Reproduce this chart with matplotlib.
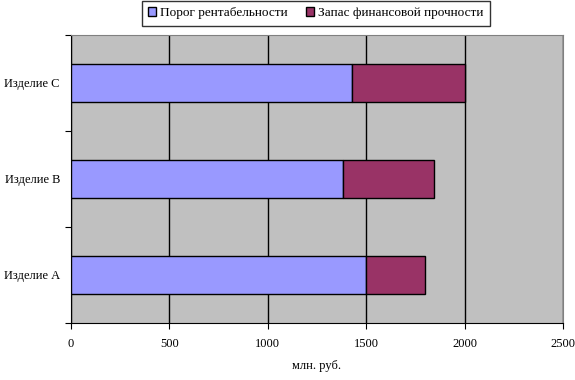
import matplotlib.pyplot as plt

plt.rcParams['font.family'] = ['Liberation Serif', 'DejaVu Serif']

products = ['Изделие А', 'Изделие В', 'Изделие С']
breakeven = [1500, 1384, 1429]
safety_margin = [300, 462, 571]
x_ticks = [0, 500, 1000, 1500, 2000, 2500]

fig = plt.figure(figsize=(5.75, 3.8), dpi=100)
ax = fig.add_axes([71 / 575, 1 - 323 / 380, 492 / 575, 288 / 380])
ax.set_facecolor('#c0c0c0')

ypos = range(len(products))
ax.barh(ypos, breakeven, height=0.4, color='#9999ff', edgecolor='black',
        linewidth=1, label='Порог рентабельности', zorder=3)
ax.barh(ypos, safety_margin, left=breakeven, height=0.4, color='#993366',
        edgecolor='black', linewidth=1, label='Запас финансовой прочности', zorder=3)

ax.set_xlim(0, 2500)
ax.set_ylim(-0.5, 2.5)
ax.set_xticks(x_ticks)
ax.set_xticklabels([str(v) for v in x_ticks], fontsize=9)
ax.xaxis.grid(True, color='black', linewidth=1, zorder=1)
ax.set_xlabel('млн. руб.', fontsize=9, labelpad=7)

# category labels centered, tick marks between categories
ax.set_yticks([-0.5, 0.5, 1.5, 2.5])
ax.set_yticklabels([])
ax.set_yticks(list(ypos), minor=True)
ax.set_yticklabels(products, minor=True, fontsize=9)
ax.tick_params(axis='y', which='minor', length=0, pad=8)
ax.tick_params(axis='y', which='major', length=4, direction='out')
ax.tick_params(axis='x', length=4, direction='out', pad=7)

for side in ['top', 'right']:
    ax.spines[side].set_color('#808080')
for side in ['left', 'bottom']:
    ax.spines[side].set_color('black')

leg = fig.legend(loc='upper center', bbox_to_anchor=(316 / 575, 1.0), ncol=2,
                 fontsize=9.5, frameon=True, fancybox=False, edgecolor='black',
                 handlelength=0.6, handleheight=0.6, handletextpad=0.3,
                 columnspacing=1.4, borderpad=0.5, borderaxespad=0.05)
leg.get_frame().set_linewidth(1)

fig.savefig('out.png', dpi=100)
